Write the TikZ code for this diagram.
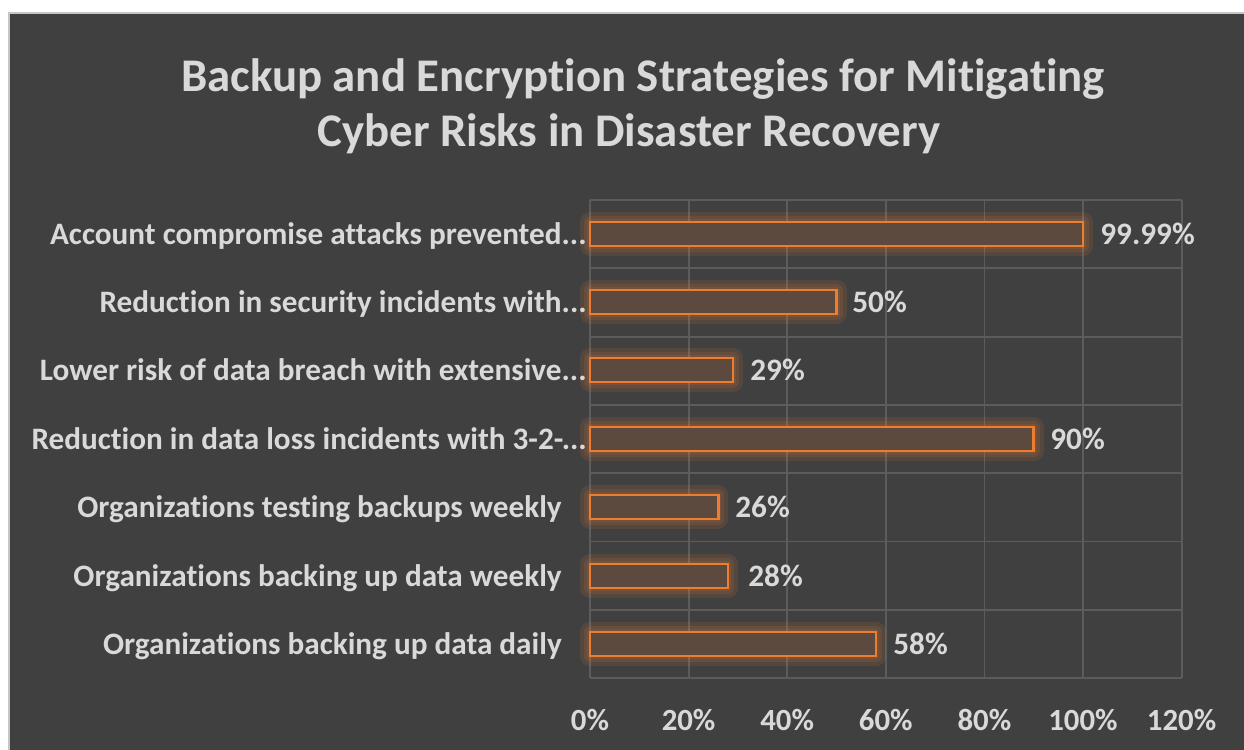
\documentclass[tikz,border=0pt]{standalone}
\usepackage{fontspec}
\setmainfont[Ligatures=NoCommon]{Carlito}

\definecolor{chartbg}{HTML}{404040}
\definecolor{gridgray}{HTML}{5C5C5C}
\definecolor{labelgray}{HTML}{D9D9D9}
\definecolor{barorange}{HTML}{ED7D31}

\tikzset{
  titletext/.style={anchor=base, text=labelgray, inner sep=0pt,
    font=\bfseries\fontsize{23.4}{28}\selectfont},
  catlabel/.style={anchor=base east, text=labelgray, inner sep=0pt,
    font=\bfseries\fontsize{15.6}{18}\selectfont},
  vallabel/.style={anchor=base west, text=labelgray, inner sep=0pt,
    font=\bfseries\fontsize{15.6}{18}\selectfont},
  ticklabel/.style={anchor=base, text=labelgray, inner sep=0pt,
    font=\bfseries\fontsize{15.4}{18}\selectfont},
  gridline/.style={draw=gridgray, line width=0.9pt},
  barglow/.style={draw=barorange, line width=#1, opacity=0.12, line join=round},
  bar/.style={draw=barorange, line width=1.4pt, fill=barorange!16!chartbg},
}

\begin{document}
\begin{tikzpicture}[x=0.5pt, y=-0.5pt]

\useasboundingbox (0, 0) rectangle (1244, 750);
\fill[white] (0, 0) rectangle (1244, 750);

% chart panel
\fill[chartbg] (9, 13) rectangle (1244, 750);
\draw[gray!45, line width=1pt] (9, 750) -- (9, 13) -- (1244, 13);

\node[titletext] (title1) at (643, 91)
  {Backup and Encryption Strategies for Mitigating};
\node[titletext] (title2) at (629, 146)
  {Cyber Risks in Disaster Recovery};

% grid
\draw[gridline] (590, 200) -- (590, 678);
\draw[gridline] (688.6, 200) -- (688.6, 678);
\draw[gridline] (787.2, 200) -- (787.2, 678);
\draw[gridline] (885.8, 200) -- (885.8, 678);
\draw[gridline] (984.4, 200) -- (984.4, 678);
\draw[gridline] (1083, 200) -- (1083, 678);
\draw[gridline] (1181.6, 200) -- (1181.6, 678);

\draw[gridline] (590, 200) -- (1181.6, 200);
\draw[gridline] (590, 268.3) -- (1181.6, 268.3);
\draw[gridline] (590, 336.6) -- (1181.6, 336.6);
\draw[gridline] (590, 404.9) -- (1181.6, 404.9);
\draw[gridline] (590, 473.1) -- (1181.6, 473.1);
\draw[gridline] (590, 541.4) -- (1181.6, 541.4);
\draw[gridline] (590, 609.7) -- (1181.6, 609.7);
\draw[gridline] (590, 678) -- (1181.6, 678);

% glow under the bars
\draw[barglow=10pt] (590, 222) rectangle (1083, 246);
\draw[barglow=6pt] (590, 222) rectangle (1083, 246);
\draw[barglow=3pt] (590, 222) rectangle (1083, 246);
\draw[barglow=10pt] (590, 290) rectangle (836.5, 314);
\draw[barglow=6pt] (590, 290) rectangle (836.5, 314);
\draw[barglow=3pt] (590, 290) rectangle (836.5, 314);
\draw[barglow=10pt] (590, 358) rectangle (733, 382);
\draw[barglow=6pt] (590, 358) rectangle (733, 382);
\draw[barglow=3pt] (590, 358) rectangle (733, 382);
\draw[barglow=10pt] (590, 427) rectangle (1033.7, 451);
\draw[barglow=6pt] (590, 427) rectangle (1033.7, 451);
\draw[barglow=3pt] (590, 427) rectangle (1033.7, 451);
\draw[barglow=10pt] (590, 495) rectangle (718.2, 519);
\draw[barglow=6pt] (590, 495) rectangle (718.2, 519);
\draw[barglow=3pt] (590, 495) rectangle (718.2, 519);
\draw[barglow=10pt] (590, 564) rectangle (728, 588);
\draw[barglow=6pt] (590, 564) rectangle (728, 588);
\draw[barglow=3pt] (590, 564) rectangle (728, 588);
\draw[barglow=10pt] (590, 632) rectangle (876, 656);
\draw[barglow=6pt] (590, 632) rectangle (876, 656);
\draw[barglow=3pt] (590, 632) rectangle (876, 656);

% bars
\draw[bar] (590, 222) rectangle (1083, 246);
\draw[bar] (590, 290) rectangle (836.5, 314);
\draw[bar] (590, 358) rectangle (733, 382);
\draw[bar] (590, 427) rectangle (1033.7, 451);
\draw[bar] (590, 495) rectangle (718.2, 519);
\draw[bar] (590, 564) rectangle (728, 588);
\draw[bar] (590, 632) rectangle (876, 656);

% category labels
\node[catlabel] (cat1) at (587, 244) {Account compromise attacks prevented...};
\node[catlabel] (cat2) at (587, 312) {Reduction in security incidents with...};
\node[catlabel] (cat3) at (587, 380) {Lower risk of data breach with extensive...};
\node[catlabel] (cat4) at (587, 449) {Reduction in data loss incidents with 3-2-...};
\node[catlabel] (cat5) at (562, 517) {Organizations testing backups weekly};
\node[catlabel] (cat6) at (562, 586) {Organizations backing up data weekly};
\node[catlabel] (cat7) at (562, 654) {Organizations backing up data daily};

% value labels
\node[vallabel] (val1) at (1100, 244) {99.99\%};
\node[vallabel] (val2) at (852, 312) {50\%};
\node[vallabel] (val3) at (750, 380) {29\%};
\node[vallabel] (val4) at (1050, 449) {90\%};
\node[vallabel] (val5) at (735, 517) {26\%};
\node[vallabel] (val6) at (748, 586) {28\%};
\node[vallabel] (val7) at (893, 654) {58\%};

% axis
\node[ticklabel] (tick0) at (590, 730) {0\%};
\node[ticklabel] (tick20) at (688.6, 730) {20\%};
\node[ticklabel] (tick40) at (787.2, 730) {40\%};
\node[ticklabel] (tick60) at (885.8, 730) {60\%};
\node[ticklabel] (tick80) at (984.4, 730) {80\%};
\node[ticklabel] (tick100) at (1083, 730) {100\%};
\node[ticklabel] (tick120) at (1181.6, 730) {120\%};

\end{tikzpicture}
\end{document}
